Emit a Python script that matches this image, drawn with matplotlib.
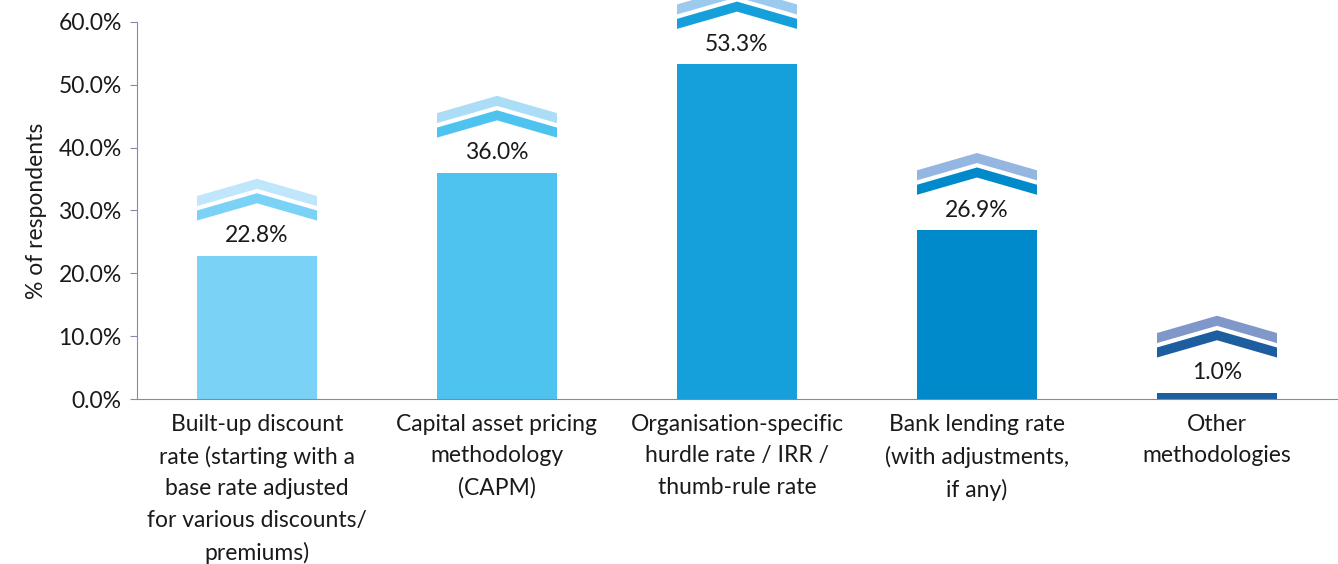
import matplotlib.pyplot as plt
from matplotlib.patches import Polygon

categories = [
    "Built-up discount\nrate (starting with a\nbase rate adjusted\nfor various discounts/\npremiums)",
    "Capital asset pricing\nmethodology\n(CAPM)",
    "Organisation-specific\nhurdle rate / IRR /\nthumb-rule rate",
    "Bank lending rate\n(with adjustments,\nif any)",
    "Other\nmethodologies",
]
values = [22.8, 36.0, 53.3, 26.9, 1.0]
bar_colors = ["#7AD2F6", "#4EC3F0", "#16A0DB", "#0089CB", "#1D5EA0"]
light_colors = ["#BFE6FB", "#ABDDF6", "#9CCAEE", "#94B6E0", "#7F97C9"]

plt.rcParams['font.family'] = ['Lato', 'DejaVu Sans']

fig = plt.figure(figsize=(13.38, 5.64), dpi=100)
ax = fig.add_axes([137 / 1338, (564 - 399) / 564, 1200 / 1338, 377 / 564])

x = list(range(len(values)))
ax.bar(x, values, width=0.5, color=bar_colors, zorder=2)


def chevron(xc, base, color, half=0.25, thick=1.6, rise=2.75):
    pts = [
        (xc - half, base),
        (xc, base + rise),
        (xc + half, base),
        (xc + half, base + thick),
        (xc, base + rise + thick),
        (xc - half, base + thick),
    ]
    ax.add_patch(Polygon(pts, closed=True, facecolor=color, edgecolor="none",
                         clip_on=False, zorder=3))


for i, v in enumerate(values):
    ax.text(i, v + 1.5, f"{v:.1f}%", ha="center", va="bottom", fontsize=16.5,
            color="#1a1a1a")
    chevron(i, v + 5.6, bar_colors[i])
    chevron(i, v + 7.9, light_colors[i])

ax.set_xlim(-0.5, 4.5)
ax.set_ylim(0, 60)
ax.set_yticks(range(0, 61, 10))
ax.set_yticklabels([f"{t:.1f}%" for t in range(0, 61, 10)], fontsize=16.5,
                   color="#1a1a1a")
ax.set_xticks(x)
ax.set_xticklabels(categories, fontsize=16.5, color="#1a1a1a", linespacing=1.6,
                   va="top")
ax.tick_params(axis="x", length=0, pad=11)
ax.tick_params(axis="y", length=5, color="#8a8aa8", pad=6)
ax.set_ylabel("% of respondents", fontsize=16.5, color="#1a1a1a", labelpad=8)

for s in ["top", "right"]:
    ax.spines[s].set_visible(False)
ax.spines["left"].set_color("#8a8aa8")
ax.spines["bottom"].set_color("#8a8a8a")

fig.savefig("out.png", dpi=100)
